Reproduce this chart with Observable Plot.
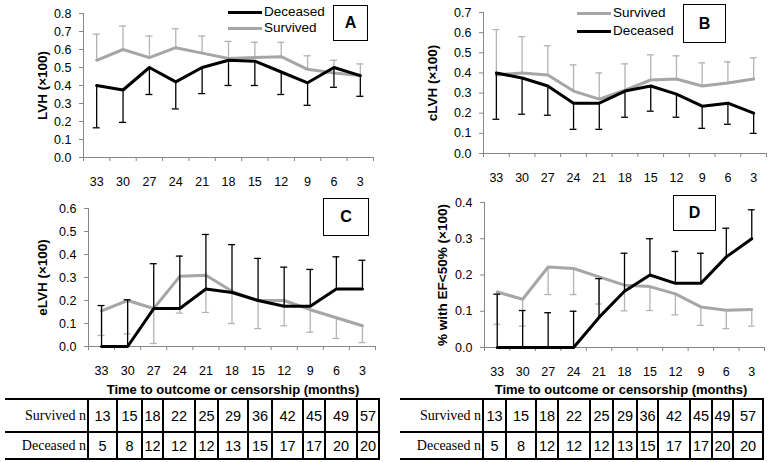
<!DOCTYPE html>
<html>
<head>
<meta charset="utf-8">
<script src="https://cdn.jsdelivr.net/npm/d3@7"></script>
<script src="https://cdn.jsdelivr.net/npm/@observablehq/plot@0.6"></script>
<style>
  html, body { margin: 0; padding: 0; background: #fff; }
  #root { position: relative; width: 772px; height: 462px; overflow: hidden; background: #fff; font-family: "Liberation Sans", Arial, sans-serif; color: #000; }
  .pan { position: absolute; }
  .pan svg { background: transparent; overflow: visible; }
  .box { position: absolute; border: 1px solid #000; background: #fff; display: flex; align-items: center; justify-content: center; font-weight: bold; font-size: 16px; box-sizing: border-box; }
  .leg { position: absolute; font-size: 13.5px; line-height: 16px; white-space: nowrap; }
  .sw { position: absolute; height: 3px; }
  .xt { position: absolute; font-weight: bold; font-size: 13px; white-space: nowrap; transform: translateX(-50%); }
  table.nt { position: absolute; border-collapse: collapse; table-layout: fixed; border-top: 2px solid #000; border-bottom: 2px solid #000; }
  table.nt td { padding: 0; text-align: center; font-family: "Liberation Sans", Arial, sans-serif; font-size: 14.5px; border-left: 2px solid #000; white-space: nowrap; overflow: hidden; }
  table.nt td.lab { border-left: none; text-align: right; font-family: "Liberation Serif", "Times New Roman", serif; font-size: 14px; padding-right: 1px; }
  table.nt td:last-child { border-right: 2px solid #000; }
  table.nt tr.r1 td { border-bottom: 2px solid #000; height: 31px; }
  table.nt tr.r2 td { height: 25px; }
</style>
</head>
<body>
<div id="root"></div>
<script>
// ---- data ----
const months = [33, 30, 27, 24, 21, 18, 15, 12, 9, 6, 3];
const survivedN = [13, 15, 18, 22, 25, 29, 36, 42, 45, 49, 57];
const deceasedN = [5, 8, 12, 12, 12, 13, 15, 17, 17, 20, 20];

// Panel A: LVH
const lvhSurvived    = [0.54, 0.60, 0.555, 0.61, 0.58, 0.55, 0.555, 0.56, 0.49, 0.47, 0.455];
const lvhSurvivedEnd = [0.685, 0.73, 0.675, 0.715, 0.675, 0.645, 0.64, 0.64, 0.565, 0.54, 0.52];
const lvhDeceased    = [0.40, 0.375, 0.50, 0.42, 0.50, 0.54, 0.535, 0.475, 0.415, 0.50, 0.455];
const lvhDeceasedEnd = [0.165, 0.195, 0.35, 0.27, 0.355, 0.40, 0.40, 0.35, 0.29, 0.39, 0.34];

// Panel B: cLVH
const clvhSurvived    = [0.39, 0.40, 0.39, 0.31, 0.27, 0.315, 0.365, 0.37, 0.335, 0.35, 0.37];
const clvhSurvivedEnd = [0.615, 0.58, 0.535, 0.44, 0.40, 0.445, 0.49, 0.485, 0.45, 0.455, 0.475];
const clvhDeceased    = [0.40, 0.375, 0.335, 0.25, 0.25, 0.31, 0.335, 0.295, 0.235, 0.25, 0.20];
const clvhDeceasedEnd = [0.17, 0.195, 0.19, 0.12, 0.12, 0.18, 0.21, 0.18, 0.125, 0.145, 0.10];

// Panel C: eLVH
const elvhSurvived    = [0.155, 0.20, 0.165, 0.305, 0.31, 0.24, 0.20, 0.20, 0.16, 0.125, 0.09];
const elvhSurvivedEnd = [0.048, 0.055, 0.013, 0.145, 0.148, 0.10, 0.078, 0.09, 0.062, 0.035, 0.017];
const elvhDeceased    = [0, 0, 0.165, 0.165, 0.25, 0.235, 0.20, 0.175, 0.175, 0.25, 0.25];
const elvhDeceasedEnd = [0.178, 0.203, 0.36, 0.393, 0.487, 0.443, 0.383, 0.345, 0.335, 0.39, 0.375];

// Panel D: % with EF<50%
const efSurvived    = [0.153, 0.133, 0.222, 0.218, 0.195, 0.172, 0.168, 0.148, 0.112, 0.103, 0.105];
const efSurvivedEnd = [0.064, 0.059, 0.146, 0.146, 0.12, 0.101, 0.102, 0.09, 0.061, 0.052, 0.059];
const efDeceased    = [0, 0, 0, 0, 0.083, 0.155, 0.20, 0.177, 0.177, 0.25, 0.30];
const efDeceasedEnd = [0.147, 0.102, 0.096, 0.10, 0.19, 0.26, 0.30, 0.265, 0.26, 0.329, 0.38];

const xTitle = "Time to outcome or censorship (months)";

// ---- styles ----
const BLACK = "#000000";
const GRAY = "#a6a6a6";
const GRAY_ERR = "#b3b3b3";
const AXIS = "#868686";
const CAP = 0.4; // half cap width in month units

function panel(cfg) {
  const rows = months.map((m, i) => ({
    month: m,
    s: cfg.s[i], se: cfg.se[i],
    d: cfg.d[i], de: cfg.de[i]
  }));
  const yTicks = d3.range(0, cfg.yMax + 1e-9, 0.1);
  const bounds = [months[0] + 1.5, ...months.map(m => m - 1.5)];
  const lo = months[0] + 1.5, hi = months[months.length - 1] - 1.5;
  const grayMarks = [
    Plot.ruleX(rows, {x: "month", y1: "s", y2: "se", stroke: GRAY_ERR, strokeWidth: 1.3}),
    Plot.ruleY(rows, {y: "se", x1: d => d.month + CAP, x2: d => d.month - CAP, stroke: GRAY_ERR, strokeWidth: 1.3}),
    Plot.line(rows, {x: "month", y: "s", stroke: GRAY, strokeWidth: 3})
  ];
  const blackMarks = [
    Plot.ruleX(rows, {x: "month", y1: "d", y2: "de", stroke: BLACK, strokeWidth: 1.3}),
    Plot.ruleY(rows, {y: "de", x1: d => d.month + CAP, x2: d => d.month - CAP, stroke: BLACK, strokeWidth: 1.3}),
    Plot.line(rows, {x: "month", y: "d", stroke: BLACK, strokeWidth: 3})
  ];
  const chart = Plot.plot({
    width: cfg.width, height: cfg.height,
    marginLeft: cfg.ml, marginRight: cfg.mr, marginTop: cfg.mt, marginBottom: cfg.mb,
    x: {type: "linear", domain: [lo, hi]},
    y: {domain: [0, cfg.yMax]},
    style: {fontFamily: "'Liberation Sans', Arial, sans-serif", fontSize: "12px", color: "#000", background: "transparent"},
    marks: [
      Plot.axisX({ticks: months, tickSize: 0, tickPadding: 20, tickFormat: d => String(d), label: null, fontSize: 12.5}),
      Plot.axisX({ticks: bounds, tickSize: 4, tickFormat: () => "", label: null, stroke: AXIS}),
      Plot.axisY({ticks: yTicks, tickSize: 4, tickPadding: 8, tickFormat: d3.format(".1f"), label: null, stroke: AXIS, fontSize: 12.5}),
      Plot.ruleY([0], {stroke: AXIS, strokeWidth: 1}),
      Plot.ruleX([lo], {stroke: AXIS, strokeWidth: 1}),
      ...(cfg.blackFirst ? [...blackMarks, ...grayMarks] : [...grayMarks, ...blackMarks]),
      Plot.text([cfg.label], {text: d => d, frameAnchor: "left", textAnchor: "middle", dx: cfg.labelDx, rotate: -90, fontWeight: "bold", fontSize: 13.5})
    ]
  });
  return chart;
}

const root = document.getElementById("root");
function place(node, left, top) {
  const div = document.createElement("div");
  div.className = "pan";
  div.style.left = left + "px";
  div.style.top = top + "px";
  div.appendChild(node);
  root.appendChild(div);
}

place(panel({s: lvhSurvived, se: lvhSurvivedEnd, d: lvhDeceased, de: lvhDeceasedEnd, yMax: 0.8,
  label: "LVH (×100)", labelDx: -41, width: 385, height: 200, ml: 83, mr: 12, mt: 13, mb: 43}), 0, 0);
place(panel({s: clvhSurvived, se: clvhSurvivedEnd, d: clvhDeceased, de: clvhDeceasedEnd, yMax: 0.7,
  label: "cLVH (×100)", labelDx: -51, width: 387, height: 200, ml: 98, mr: 6, mt: 12, mb: 47}), 385, 0);
place(panel({s: elvhSurvived, se: elvhSurvivedEnd, d: elvhDeceased, de: elvhDeceasedEnd, yMax: 0.6,
  label: "eLVH (×100)", labelDx: -46, width: 385, height: 195, ml: 88, mr: 10, mt: 13, mb: 44}), 0, 195);
place(panel({s: efSurvived, se: efSurvivedEnd, d: efDeceased, de: efDeceasedEnd, yMax: 0.4,
  label: "% with EF<50% (×100)", labelDx: -42, width: 387, height: 195, ml: 99, mr: 8, mt: 7, mb: 43}), 385, 195);

// panel letter boxes
function box(letter, left, top, w, h) {
  const b = document.createElement("div");
  b.className = "box";
  Object.assign(b.style, {left: left + "px", top: top + "px", width: w + "px", height: h + "px"});
  b.textContent = letter;
  root.appendChild(b);
}
box("A", 333, 5, 35, 36);
box("B", 683, 4, 43, 39);
box("C", 323, 198, 46, 38);
box("D", 673, 195, 43, 36);

// legends
function legendItem(text, color, x1, x2, y) {
  const s = document.createElement("div");
  s.className = "sw";
  Object.assign(s.style, {left: x1 + "px", top: (y - 1.5) + "px", width: (x2 - x1) + "px", background: color});
  root.appendChild(s);
  const t = document.createElement("div");
  t.className = "leg";
  Object.assign(t.style, {left: (x2 + 2) + "px", top: (y - 8) + "px"});
  t.textContent = text;
  root.appendChild(t);
}
legendItem("Deceased", BLACK, 228, 262, 12);
legendItem("Survived", GRAY, 228, 262, 28);
legendItem("Survived", GRAY, 577, 611, 13);
legendItem("Deceased", BLACK, 577, 611, 31);

// x titles
function xt(left, top) {
  const t = document.createElement("div");
  t.className = "xt";
  Object.assign(t.style, {left: left + "px", top: top + "px"});
  t.textContent = xTitle;
  root.appendChild(t);
}
xt(233, 382);
xt(621, 382);

// n tables
function nTable(left, top, colEdges) {
  const widths = colEdges.slice(1).map((e, i) => e - colEdges[i]);
  const tbl = document.createElement("table");
  tbl.className = "nt";
  Object.assign(tbl.style, {left: left + "px", top: top + "px", width: (colEdges[colEdges.length - 1] - colEdges[0]) + "px"});
  const cg = document.createElement("colgroup");
  widths.forEach(w => { const c = document.createElement("col"); c.style.width = w + "px"; cg.appendChild(c); });
  tbl.appendChild(cg);
  [["Survived n", survivedN, "r1"], ["Deceased n", deceasedN, "r2"]].forEach(([lab, vals, cls]) => {
    const tr = document.createElement("tr");
    tr.className = cls;
    const th = document.createElement("td");
    th.className = "lab";
    th.textContent = lab;
    tr.appendChild(th);
    vals.forEach(v => { const td = document.createElement("td"); td.textContent = v; tr.appendChild(td); });
    tbl.appendChild(tr);
  });
  root.appendChild(tbl);
}
nTable(5, 398, [5, 88, 117, 142, 163, 195, 218, 248, 272, 303, 325, 357, 379]);
nTable(400, 398, [400, 483, 506, 536, 558, 590, 613, 637, 658, 690, 712, 733, 763]);
</script>
</body>
</html>
